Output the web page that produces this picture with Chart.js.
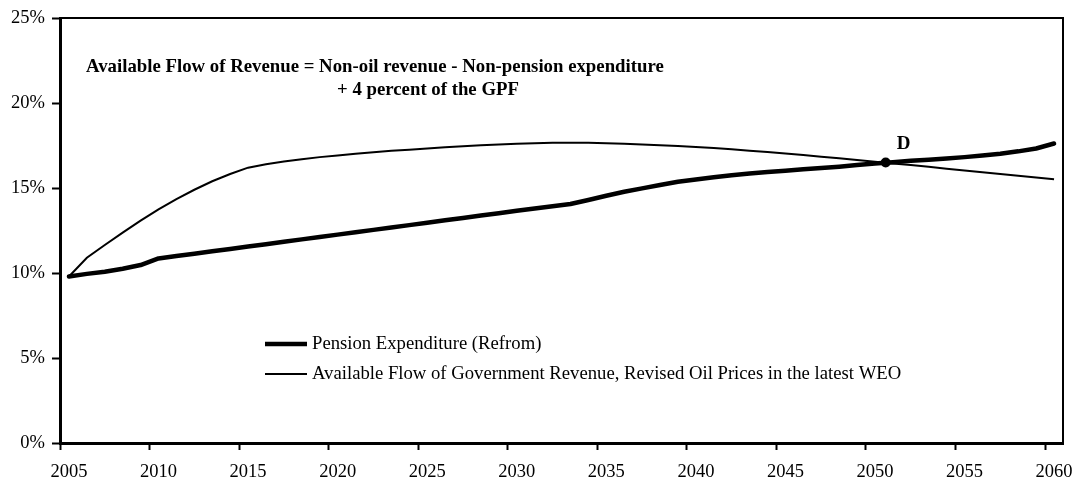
<!DOCTYPE html>
<html>
<head>
<meta charset="utf-8">
<script src="https://cdn.jsdelivr.net/npm/chart.js@4.4.1/dist/chart.umd.min.js"></script>
<style>html,body{margin:0;padding:0;background:#fff}canvas{display:block}</style>
</head>
<body>
<canvas id="c" width="1080" height="484"></canvas>
<script>
// ---- data ----
const YEARS = [2005,2006,2007,2008,2009,2010,2011,2012,2013,2014,2015,2016,2017,2018,2019,2020,2021,2022,2023,2024,2025,2026,2027,2028,2029,2030,2031,2032,2033,2034,2035,2036,2037,2038,2039,2040,2041,2042,2043,2044,2045,2046,2047,2048,2049,2050,2051,2052,2053,2054,2055,2056,2057,2058,2059,2060];
const PENSION = [9.8,9.95,10.08,10.25,10.47,10.86,11.0,11.14,11.28,11.42,11.56,11.7,11.84,11.98,12.12,12.26,12.4,12.54,12.68,12.82,12.96,13.1,13.24,13.38,13.52,13.66,13.8,13.93,14.06,14.3,14.55,14.78,14.98,15.18,15.37,15.5,15.63,15.76,15.85,15.94,16.02,16.1,16.18,16.26,16.35,16.44,16.52,16.6,16.67,16.74,16.82,16.91,17.02,17.16,17.33,17.62];
const REVENUE = [9.8,10.9,11.65,12.38,13.08,13.75,14.35,14.9,15.4,15.83,16.2,16.4,16.56,16.7,16.82,16.92,17.02,17.1,17.19,17.26,17.33,17.4,17.46,17.52,17.57,17.61,17.64,17.66,17.67,17.66,17.64,17.61,17.57,17.52,17.47,17.41,17.35,17.28,17.2,17.12,17.03,16.94,16.84,16.75,16.65,16.55,16.45,16.35,16.25,16.14,16.04,15.93,15.83,15.73,15.62,15.52];
const X_TICKS = [2005,2010,2015,2020,2025,2030,2035,2040,2045,2050,2055,2060];
const Y_TICKS = [0,5,10,15,20,25];
const D_POINT = [2050.6, 16.5];
const D_LABEL = "D";
const SERIES_LABELS = ["Pension Expenditure (Refrom)","Available Flow of Government Revenue, Revised Oil Prices in the latest WEO"];
const NOTE_LINES = ["Available Flow of Revenue = Non-oil revenue - Non-pension expenditure","+ 4 percent of the GPF"];

const FONT = "'Liberation Serif','Times New Roman',serif";
const HALF = 0.5; // each year is a category slot, values sit in its middle

const pts = vals => YEARS.map((y,i)=>({x:y+HALF, y:vals[i]}));

const framePlugin = {
  id: "frame",
  afterDraw(chart){
    const {ctx, chartArea:a} = chart;
    ctx.save();
    ctx.strokeStyle = "#000";
    ctx.lineWidth = 2;
    ctx.beginPath();
    ctx.moveTo(a.left, a.top); ctx.lineTo(a.right, a.top); ctx.lineTo(a.right, a.bottom);
    ctx.stroke();

    // notes
    ctx.fillStyle = "#000";
    ctx.textBaseline = "middle";
    ctx.textAlign = "left";
    ctx.font = "bold 18.8px " + FONT;
    ctx.fillText(NOTE_LINES[0], 86, 67);
    ctx.fillText(NOTE_LINES[1], 337, 90);

    // D label
    const dp = chart.getDatasetMeta(2).data[0];
    ctx.font = "bold 19px " + FONT;
    ctx.textAlign = "center";
    ctx.fillText(D_LABEL, dp.x + 18, dp.y - 18);

    // legend
    ctx.font = "18.7px " + FONT;
    ctx.textAlign = "left";
    const rows = [344, 374];
    chart.data.datasets.slice(0,2).forEach((ds,i)=>{
      ctx.lineWidth = ds.borderWidth;
      ctx.beginPath();
      ctx.moveTo(265, rows[i]); ctx.lineTo(307, rows[i]);
      ctx.stroke();
      ctx.fillText(ds.label, 312, rows[i]);
    });
    ctx.restore();
  }
};

new Chart(document.getElementById("c"), {
  type: "line",
  data: {
    datasets: [
      {label: SERIES_LABELS[0], data: pts(PENSION), borderColor:"#000", borderWidth:4.5, pointRadius:0, tension:0, borderJoinStyle:"round", borderCapStyle:"round"},
      {label: SERIES_LABELS[1], data: pts(REVENUE), borderColor:"#000", borderWidth:2, pointRadius:0, tension:0},
      {label: D_LABEL, data: [{x:D_POINT[0]+HALF, y:D_POINT[1]}], showLine:false, pointRadius:5, pointBackgroundColor:"#000", pointBorderColor:"#000", pointBorderWidth:0}
    ]
  },
  options: {
    responsive: false,
    animation: false,
    devicePixelRatio: 1,
    layout: {padding: {top:14, right:17, left:0, bottom:0}},
    plugins: {legend:{display:false}, tooltip:{enabled:false}},
    scales: {
      x: {
        type: "linear", min: 2005, max: 2061,
        afterBuildTicks: s => { s.ticks = X_TICKS.map(v=>({value:v})); },
        afterFit: s => { s.height = 41; },
        grid: {drawOnChartArea:false, drawTicks:true, tickLength:7, tickWidth:2, tickColor:"#000"},
        border: {display:true, color:"#000", width:3},
        ticks: {autoSkip:false, maxRotation:0, labelOffset:9, padding:11, color:"#000", font:{family:FONT, size:18.5}, callback: v => String(v)}
      },
      y: {
        min: 0, max: 25,
        afterBuildTicks: s => { s.ticks = Y_TICKS.map(v=>({value:v})); },
        afterFit: s => { s.width = 60; },
        grid: {drawOnChartArea:false, drawTicks:true, tickLength:8, tickWidth:2, tickColor:"#000"},
        border: {display:true, color:"#000", width:3},
        ticks: {padding:7, color:"#000", font:{family:FONT, size:18.5}, callback: v => v + "%"}
      }
    }
  },
  plugins: [framePlugin]
});
</script>
</body>
</html>
